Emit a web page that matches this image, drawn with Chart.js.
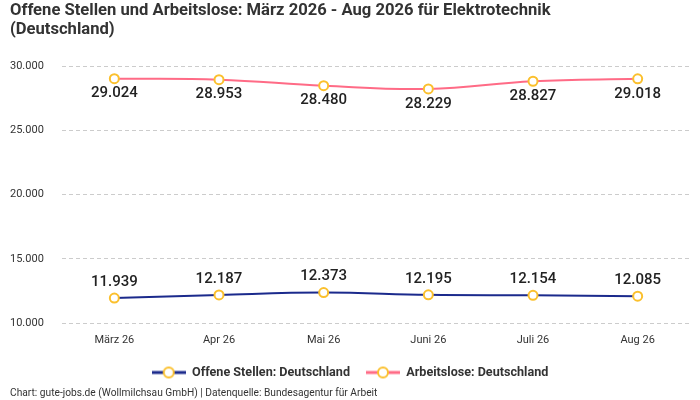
<!DOCTYPE html>
<html><head><meta charset="utf-8">
<script src="https://cdn.jsdelivr.net/npm/chart.js@4"></script>
<style>html,body{margin:0;padding:0;background:#fff}#wrap{width:700px;height:400px}</style>
</head><body><div id="wrap"><canvas id="c"></canvas></div>
<script>
const categories = ['März 26','Apr 26','Mai 26','Juni 26','Juli 26','Aug 26'];
const offeneStellen = [11939,12187,12373,12195,12154,12085];
const arbeitslose = [29024,28953,28480,28229,28827,29018];
const yTicks = [10000,15000,20000,25000,30000];
const FONT = 'Roboto, "Noto Sans", sans-serif';
const BLUE = '#1b2a8c', PINK = '#ff6b86', YEL = '#fbc02d';

function fmt(v){return String(Math.round(v)).replace(/\B(?=(\d{3})+(?!\d))/g,'.');}

function legendIcon(color){
  const c=document.createElement('canvas');c.width=34;c.height=14;
  const x=c.getContext('2d');
  x.strokeStyle=color;x.lineWidth=3;x.beginPath();x.moveTo(0,7);x.lineTo(34,7);x.stroke();
  x.fillStyle='#fff';x.strokeStyle=YEL;x.lineWidth=2;x.beginPath();x.arc(17,7,5,0,Math.PI*2);x.fill();x.stroke();
  return c;
}
const icons=[legendIcon(BLUE),legendIcon(PINK)];

const labelPlugin={id:'vals',afterDatasetsDraw(chart){
  const ctx=chart.ctx;ctx.save();
  ctx.font='500 15px '+FONT;ctx.fillStyle='#222';ctx.textAlign='center';ctx.textBaseline='middle';
  chart.data.datasets.forEach((ds,i)=>{
    const meta=chart.getDatasetMeta(i);
    meta.data.forEach((p,j)=>{
      const off = i===0 ? -16 : 15;
      ctx.fillText(fmt(ds.data[j]),p.x,p.y+off);
    });
  });
  ctx.restore();
}};

new Chart(document.getElementById('c'),{
  type:'line',
  data:{labels:categories,datasets:[
    {label:'Offene Stellen: Deutschland',data:offeneStellen,borderColor:BLUE,backgroundColor:BLUE,borderWidth:2,tension:0.4,
     pointRadius:4.5,pointBorderWidth:2,pointBorderColor:YEL,pointBackgroundColor:'#fff'},
    {label:'Arbeitslose: Deutschland',data:arbeitslose,borderColor:PINK,backgroundColor:PINK,borderWidth:2,tension:0.4,
     pointRadius:4.5,pointBorderWidth:2,pointBorderColor:YEL,pointBackgroundColor:'#fff'}
  ]},
  options:{
    responsive:true,maintainAspectRatio:false,animation:false,
    layout:{padding:{left:10,right:10,top:0,bottom:1}},
    scales:{
      x:{offset:true,grid:{display:false},border:{display:false},
         ticks:{color:'#333',font:{family:FONT,size:11},padding:3}},
      y:{min:10000,max:30000,afterBuildTicks(a){a.ticks=yTicks.map(v=>({value:v}));},
         afterFit(s){s.width=52;},
         grid:{color:'#cccccc',drawTicks:false},border:{display:false,dash:[4,3]},
         ticks:{color:'#333',font:{family:FONT,size:11},padding:16,crossAlign:'far',callback:v=>fmt(v)}}
    },
    plugins:{
      title:{display:true,align:'start',text:['Offene Stellen und Arbeitslose: März 2026 - Aug 2026 für Elektrotechnik','(Deutschland)'],
        color:'#333',font:{family:FONT,size:16.6,weight:'bold',lineHeight:1.12},padding:{top:2,bottom:27}},
      subtitle:{display:true,position:'bottom',align:'start',text:'Chart: gute-jobs.de (Wollmilchsau GmbH) | Datenquelle: Bundesagentur für Arbeit',
        color:'#333',font:{family:FONT,size:10.2,lineHeight:1.0},padding:{top:0,bottom:0}},
      legend:{position:'bottom',labels:{usePointStyle:true,pointStyleWidth:34,color:'#333',font:{family:FONT,size:12.6,weight:'bold'},padding:16,
        generateLabels(chart){return chart.data.datasets.map((d,i)=>({text:d.label,pointStyle:icons[i],fillStyle:d.borderColor,strokeStyle:d.borderColor,lineWidth:0,datasetIndex:i,hidden:false,fontColor:'#333'}));}}},
      tooltip:{enabled:false}
    }
  },
  plugins:[labelPlugin]
});
</script></body></html>
